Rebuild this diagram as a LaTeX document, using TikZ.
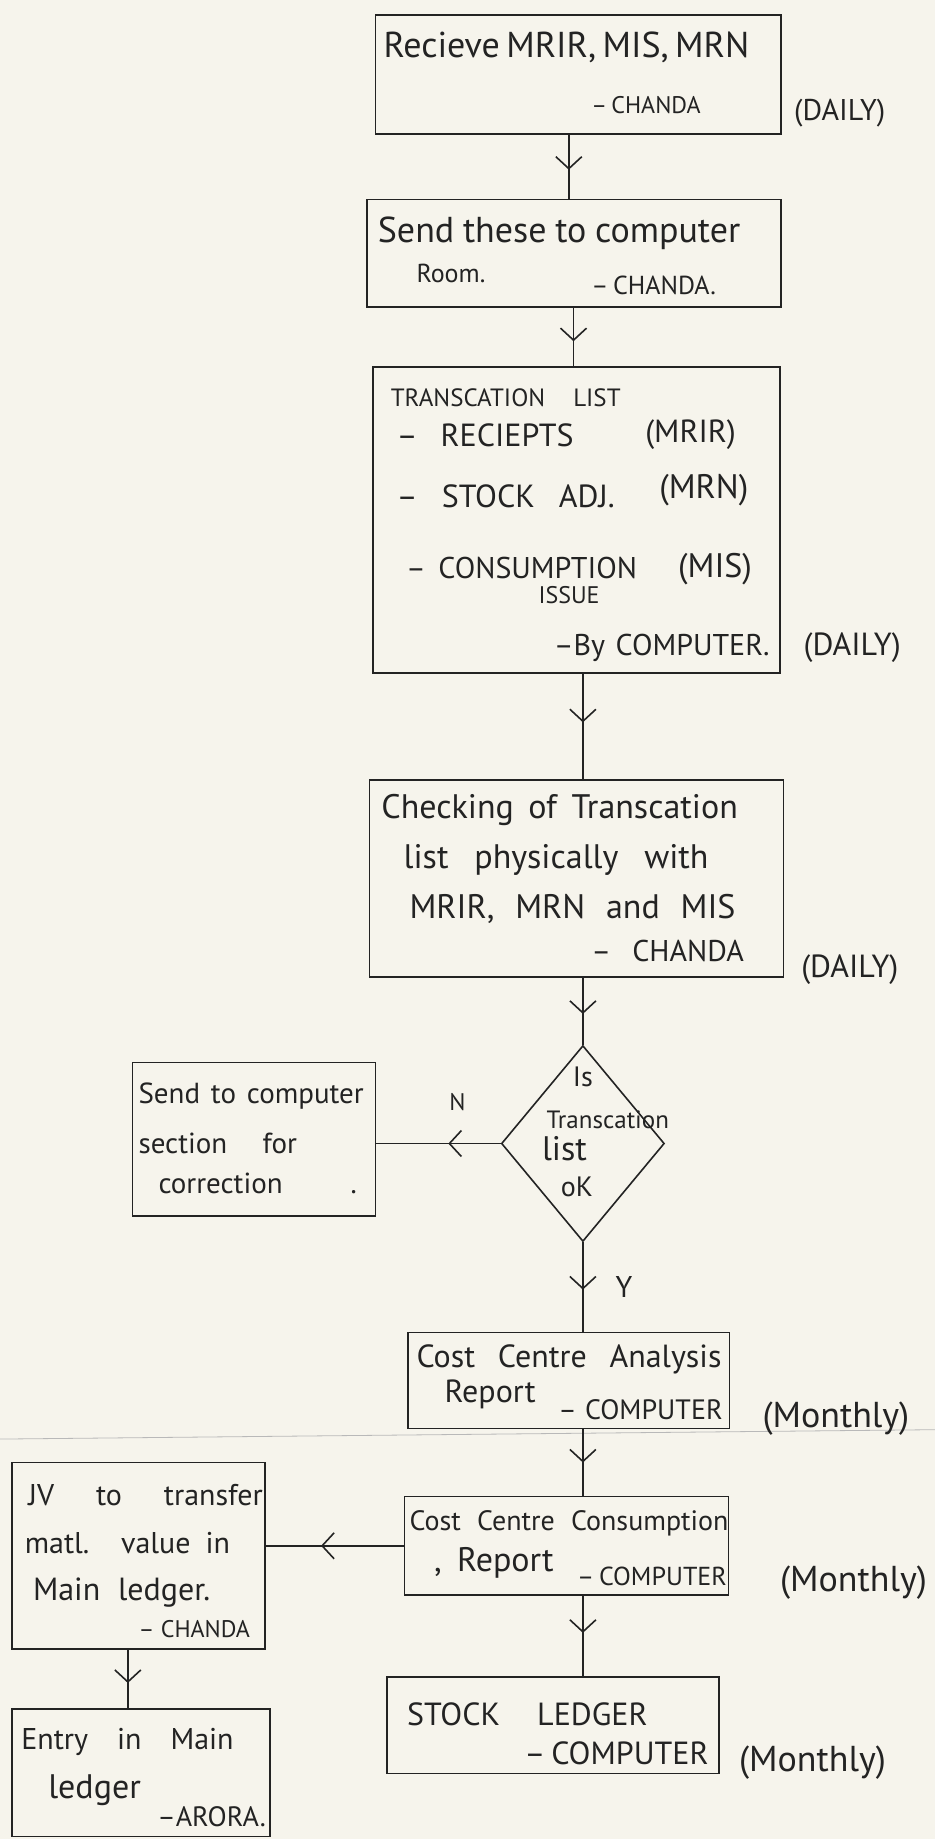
\documentclass[tikz,border=0pt]{standalone}
\usepackage{fontspec}
\setmainfont{PT Sans}
\usetikzlibrary{fit,shapes.geometric,arrows.meta,decorations.markings}
\newdimen\upx \upx=1.1731pt
\newcommand\hw[2]{\makebox[#1\upx][s]{#2}}
\newcommand\fs[1]{\fontsize{#1}{#1}\selectfont}
\definecolor{ink}{RGB}{35,35,35}
\definecolor{paper}{RGB}{246,244,236}
\tikzset{
  box/.style={draw=ink, line width=1.6pt, inner sep=0pt},
  lbl/.style={inner sep=0pt, anchor=base west, text=ink, font=\fs{#1}, yshift=-0.35*#1pt},
  lblc/.style={lbl=#1, anchor=base},
  flow/.style={draw=ink, line width=1.6pt, postaction={decorate},
    decoration={markings, mark=at position #1 with {\arrow{Straight Barb[length=12pt,width=26pt,line width=1.6pt]}}}},
  flow/.default=0.5
}
\begin{document}
\begin{tikzpicture}[x=1.1731pt, y=-1.1731pt]
\useasboundingbox (0,0) rectangle (797,1568);
\fill[paper] (0,0) rectangle (797,1568);
% paper crease
\draw[gray!55, line width=0.8pt] (0,1227) -- (797,1219);

% boxes
\node[box, fit={(320,13) (666,114)}] (b1) {};
\node[box, fit={(313,170) (666,262)}] (b2) {};
\node[box, fit={(318,313) (665,574)}] (b3) {};
\node[box, fit={(315,665) (668,833)}] (b4) {};
\node[draw=ink, line width=1.6pt, diamond, minimum width=163pt, minimum height=196pt, inner sep=0pt] (dia) at (497,975) {};
\node[box, fit={(113,906) (320,1037)}] (b5) {};
\node[box, fit={(348,1136) (622,1218)}] (b6) {};
\node[box, fit={(345,1276) (621,1360)}] (b7) {};
\node[box, fit={(10,1247) (226,1406)}] (b8) {};
\node[box, fit={(330,1430) (613,1512)}] (b9) {};
\node[box, fit={(10,1457) (230,1566)}] (b10) {};

% columns for connectors
\coordinate (cA) at (485,0);
\coordinate (cB) at (489,0);
\coordinate (cC) at (497,0);
\coordinate (cD) at (109,0);

% connectors
\draw[flow=0.55] (b1.south -| cA) -- (b2.north -| cA);
\draw[flow=0.57] (b2.south -| cB) -- (b3.north -| cB);
\draw[flow=0.46] (b3.south -| cC) -- (b4.north -| cC);
\draw[flow=0.54] (b4.south -| dia.north) -- (dia.north);
\draw[flow=0.42] (dia.west) -- (dia.west -| b5.east);
\draw[flow=0.53] (dia.south) -- (b6.north -| dia.south);
\draw[flow=0.50] (b6.south -| cC) -- (b7.north -| cC);
\draw[flow=0.60] (b7.west) -- (b7.west -| b8.east);
\draw[flow=0.46] (b7.south -| cC) -- (b9.north -| cC);
\draw[flow=0.57] (b8.south -| cD) -- (b10.north -| cD);

% box 1
\node[lbl=36] (t1a) at (327,38) {\hw{311}{Recieve MRIR, MIS, MRN}};
\node[lbl=24] (t1b) at (504,90) {\hw{93}{– CHANDA}};
\node[lbl=30] (t1c) at (677,94) {(DAILY)};
% box 2
\node[lbl=36] (t2a) at (322,196) {\hw{309}{Send these to computer}};
\node[lbl=26] (t2b) at (355,233) {Room.};
\node[lbl=26] (t2c) at (504,243) {\hw{95}{– CHANDA.}};
% box 3
\node[lbl=25] (t3a) at (333,339) {\hw{196}{TRANSCATION LIST}};
\node[lbl=32] (t3b) at (338,371) {\hw{151}{– RECIEPTS}};
\node[lbl=32] (t3c) at (550,368) {(MRIR)};
\node[lbl=32] (t3d) at (338,423) {\hw{186}{– STOCK ADJ.}};
\node[lbl=34] (t3e) at (562,415) {(MRN)};
\node[lbl=30] (t3f) at (346,484) {\hw{197}{– CONSUMPTION}};
\node[lbl=24] (t3g) at (459,507) {ISSUE};
\node[lbl=34] (t3h) at (578,482) {(MIS)};
\node[lbl=30] (t3i) at (472,550) {\hw{184}{–By COMPUTER.}};
\node[lbl=32] (t3j) at (685,549) {(DAILY)};
% box 4
\node[lbl=34] (t4a) at (325,688) {\hw{304}{Checking of Transcation}};
\node[lbl=34] (t4b) at (344,730) {\hw{260}{list physically with}};
\node[lbl=34] (t4c) at (349,773) {\hw{278}{MRIR, MRN and MIS}};
\node[lbl=30] (t4d) at (504,811) {\hw{130}{– CHANDA}};
\node[lbl=32] (t4e) at (683,824) {(DAILY)};
% diamond
\node[lblc=28] (td1) at (497,918) {Is};
\node[lbl=25] (td2) at (466,955) {Transcation};
\node[lbl=34] (td3) at (462,979) {list};
\node[lbl=28] (td4) at (478,1012) {oK};
\node[lblc=24] (tN) at (390,940) {N};
\node[lblc=30] (tY) at (532,1097) {Y};
% box 5
\node[lbl=29] (t5a) at (118,932) {\hw{192}{Send to computer}};
\node[lbl=29] (t5b) at (118,975) {\hw{135}{section for}};
\node[lbl=29] (t5c) at (135,1009) {\hw{169}{correction .}};
% box 6
\node[lbl=32] (t6a) at (355,1156) {\hw{260}{Cost Centre Analysis}};
\node[lbl=32] (t6b) at (379,1186) {Report};
\node[lbl=28] (t6c) at (476,1202) {\hw{140}{– COMPUTER}};
\node[lbl=36] (t6d) at (650,1206) {(Monthly)};
% box 7
\node[lbl=28] (t7a) at (349,1297) {\hw{272}{Cost Centre Consumption}};
\node[lbl=34] (t7b) at (370,1330) {\hw{102}{, Report}};
\node[lbl=26] (t7c) at (492,1344) {\hw{116}{– COMPUTER}};
\node[lbl=36] (t7d) at (665,1346) {(Monthly)};
% box 8
\node[lbl=30] (t8a) at (24,1275) {\hw{200}{JV to transfer}};
\node[lbl=30] (t8b) at (21,1316) {\hw{175}{matl. value in}};
\node[lbl=32] (t8c) at (28,1355) {\hw{151}{Main ledger.}};
\node[lbl=24] (t8d) at (118,1389) {\hw{95}{– CHANDA}};
% box 9
\node[lbl=32] (t9a) at (347,1462) {\hw{205}{STOCK LEDGER}};
\node[lbl=32] (t9b) at (447,1495) {\hw{145}{– COMPUTER}};
\node[lbl=36] (t9c) at (630,1500) {(Monthly)};
% box 10
\node[lbl=30] (t10a) at (18,1483) {\hw{181}{Entry in Main}};
\node[lbl=34] (t10b) at (41,1523) {ledger};
\node[lbl=28] (t10c) at (134,1549) {–ARORA.};
\end{tikzpicture}
\end{document}
